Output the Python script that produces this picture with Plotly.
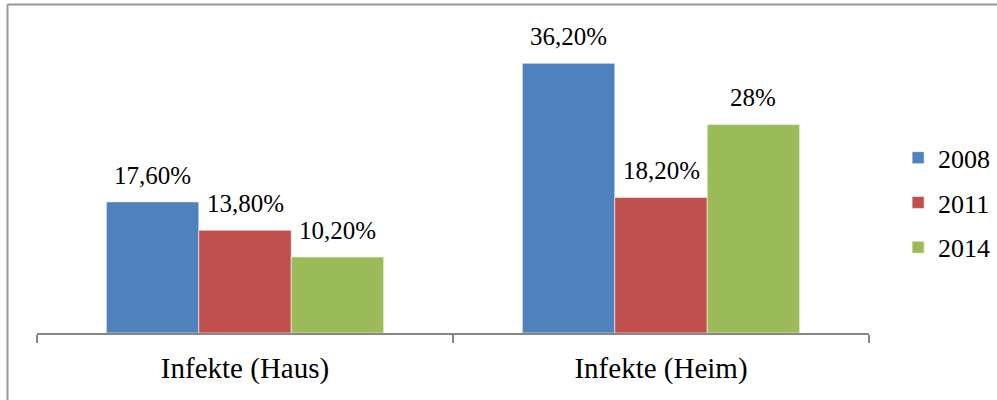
import plotly.graph_objects as go

# Categories and yearly shares (in %)
categories = ["Infekte (Haus)", "Infekte (Heim)"]
years = ["2008", "2011", "2014"]
values_2008 = [17.6, 36.2]
values_2011 = [13.8, 18.2]
values_2014 = [10.2, 28.0]
labels_2008 = ["17,60%", "36,20%"]
labels_2011 = ["13,80%", "18,20%"]
labels_2014 = ["10,20%", "28%"]

series_values = [values_2008, values_2011, values_2014]
series_labels = [labels_2008, labels_2011, labels_2014]
colors = ["#4F81BD", "#C0504D", "#9BBB59"]

FONT = "Liberation Serif"
BARGAP = 1 / 3

fig = go.Figure()
for name, vals, color in zip(years, series_values, colors):
    fig.add_trace(go.Bar(
        x=categories, y=vals, name=name,
        marker=dict(color=color, line=dict(color="rgba(255,255,255,0.55)", width=1)),
        legendgroup=name,
    ))

# value labels above each bar, centred on the bar within its group
bar_w = (1 - BARGAP) / len(years)
for j, (vals, labs) in enumerate(zip(series_values, series_labels)):
    for i, (v, t) in enumerate(zip(vals, labs)):
        fig.add_annotation(
            x=i + (j - 1) * bar_w, y=v, xref="x", yref="y",
            text=t, showarrow=False, yanchor="bottom", yshift=11,
            font=dict(family=FONT, size=25, color="black"),
        )

# frame lines along the top and left edges of the image
fig.add_shape(type="line", xref="paper", yref="paper",
              x0=(7.5 - 37) / 832, x1=1.2, y0=(333 - 4.5) / 298, y1=(333 - 4.5) / 298,
              line=dict(color="#999999", width=2))
fig.add_shape(type="line", xref="paper", yref="paper",
              x0=(7.5 - 37) / 832, x1=(7.5 - 37) / 832, y0=(333 - 4.5) / 298, y1=-0.3,
              line=dict(color="#999999", width=2))

fig.update_layout(
    width=997, height=400,
    margin=dict(l=37, r=128, t=35, b=67, autoexpand=False),
    paper_bgcolor="white", plot_bgcolor="white",
    barmode="group", bargap=BARGAP, bargroupgap=0,
    font=dict(family=FONT, color="black"),
    showlegend=True,
    legend=dict(
        x=1.035, xanchor="left", y=0.667, yanchor="top",
        font=dict(family=FONT, size=26, color="black"),
        tracegroupgap=8, bgcolor="rgba(0,0,0,0)",
    ),
    xaxis=dict(
        type="category", showline=True, linecolor="#868686", linewidth=2,
        ticks="outside", tickson="boundaries", ticklen=8, tickcolor="#868686", tickwidth=2,
        ticklabelstandoff=8,
        tickfont=dict(family=FONT, size=29, color="black"),
        showgrid=False, zeroline=False,
    ),
    yaxis=dict(
        range=[0, 40], visible=False, showgrid=False, zeroline=False,
    ),
)

fig.write_html("out.html")
